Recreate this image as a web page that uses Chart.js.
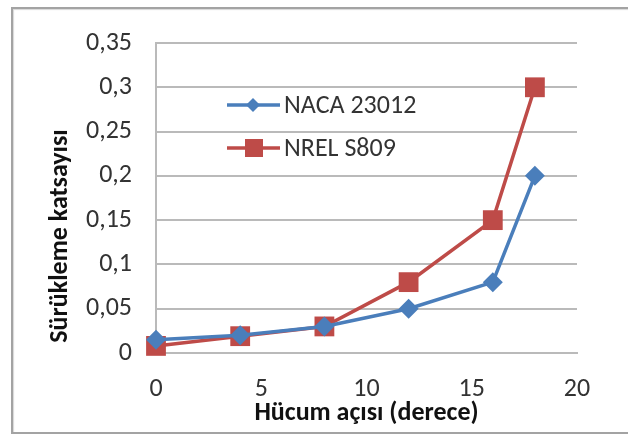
<!DOCTYPE html>
<html>
<head>
<meta charset="utf-8">
<script src="https://cdn.jsdelivr.net/npm/chart.js@4"></script>
<style>
  html, body { margin: 0; padding: 0; background: #fff; }
  #wrap { position: relative; width: 628px; height: 436px; overflow: hidden; }
  #frame { position: absolute; left: 11px; top: 7px; width: 700px; height: 423px;
           border: 2px solid #a3a3a3; box-shadow: inset 1px 1px 1px #d8d8d8; }
  canvas { position: absolute; left: 0; top: 0; }
</style>
</head>
<body>
<div id="wrap">
  <div id="frame"></div>
  <canvas id="c" width="628" height="436"></canvas>
</div>
<script>
// ---- data ----
const angles = [0, 4, 8, 12, 16, 18];
const nacaValues = [0.015, 0.02, 0.03, 0.05, 0.08, 0.2];
const nrelValues = [0.008, 0.019, 0.03, 0.08, 0.15, 0.3];
const seriesNames = ['NACA 23012', 'NREL S809'];
const yTickLabels = ['0', '0,05', '0,1', '0,15', '0,2', '0,25', '0,3', '0,35'];
const xTickLabels = ['0', '5', '10', '15', '20'];
const xTitle = 'Hücum açısı (derece)';
const yTitle = 'Sürükleme katsayısı';

const FONT = "Carlito, Lato, 'Liberation Sans', sans-serif";
const BLUE = '#4a7ebb';
const RED = '#be4b48';
const GRID = '#bababa';

const legendPlugin = {
  id: 'insideLegend',
  afterDatasetsDraw(chart) {
    const ctx = chart.ctx;
    const rows = [105, 148];
    chart.data.datasets.forEach((ds, i) => {
      const y = rows[i];
      ctx.save();
      ctx.strokeStyle = ds.borderColor;
      ctx.lineWidth = 3.5;
      ctx.beginPath();
      ctx.moveTo(227, y);
      ctx.lineTo(280, y);
      ctx.stroke();
      ctx.fillStyle = ds.backgroundColor;
      if (ds.pointStyle === 'rectRot') {
        const r = 7;
        ctx.beginPath();
        ctx.moveTo(253 - r, y); ctx.lineTo(253, y - r);
        ctx.lineTo(253 + r, y); ctx.lineTo(253, y + r);
        ctx.closePath(); ctx.fill();
      } else {
        const h = 9;
        ctx.fillRect(254 - h, y - h, 2 * h, 2 * h);
      }
      ctx.fillStyle = '#333';
      ctx.font = "26px " + FONT;
      ctx.textBaseline = 'middle';
      ctx.textAlign = 'left';
      ctx.fillText(ds.label, 284, y + 1);
      ctx.restore();
    });
  }
};

const yTitlePlugin = {
  id: 'yTitle',
  afterDraw(chart) {
    const ctx = chart.ctx;
    ctx.save();
    ctx.translate(60, 236);
    ctx.rotate(-Math.PI / 2);
    ctx.fillStyle = '#111';
    ctx.font = "bold 26px " + FONT;
    ctx.textAlign = 'center';
    ctx.textBaseline = 'middle';
    ctx.fillText(yTitle, 0, 0);
    ctx.restore();
  }
};

new Chart(document.getElementById('c'), {
  type: 'line',
  data: {
    datasets: [
      {
        label: seriesNames[0],
        data: angles.map((a, i) => ({ x: a, y: nacaValues[i] })),
        borderColor: BLUE, backgroundColor: BLUE,
        borderWidth: 3.5, pointStyle: 'rectRot', pointRadius: 10,
        pointBorderWidth: 0, pointHoverRadius: 10, clip: false, tension: 0
      },
      {
        label: seriesNames[1],
        data: angles.map((a, i) => ({ x: a, y: nrelValues[i] })),
        borderColor: RED, backgroundColor: RED,
        borderWidth: 3.5, pointStyle: 'rect', pointRadius: 14,
        pointBorderWidth: 0, pointHoverRadius: 14, clip: false, tension: 0
      }
    ]
  },
  options: {
    responsive: false,
    animation: false,
    events: [],
    layout: { padding: { left: 44, top: 43, right: 51, bottom: 7 } },
    plugins: { legend: { display: false }, tooltip: { enabled: false } },
    scales: {
      x: {
        type: 'linear', min: 0, max: 20,
        afterFit(s) { s.height = 76; },
        afterBuildTicks(s) { s.ticks = xTickLabels.map(t => ({ value: Number(t) })); },
        grid: { display: false, drawTicks: false },
        border: { display: true, color: GRID, width: 2 },
        ticks: {
          padding: 21, color: '#333', font: { family: FONT, size: 26 },
          maxRotation: 0, autoSkip: false,
          callback: (v, i) => xTickLabels[i]
        },
        title: {
          display: true, text: xTitle, color: '#111',
          font: { family: FONT, size: 26, weight: 'bold' }, padding: 0
        }
      },
      y: {
        type: 'linear', min: 0, max: 0.35,
        afterFit(s) { s.width = 112; },
        afterBuildTicks(s) { s.ticks = yTickLabels.map((t, i) => ({ value: i * 0.05 })); },
        grid: { color: GRID, lineWidth: 2, drawTicks: false },
        border: { display: true, color: GRID, width: 2 },
        ticks: {
          padding: 24, color: '#333', font: { family: FONT, size: 26 },
          autoSkip: false,
          callback: (v, i) => yTickLabels[i]
        },
        title: { display: false }
      }
    }
  },
  plugins: [legendPlugin, yTitlePlugin]
});
</script>
</body>
</html>
